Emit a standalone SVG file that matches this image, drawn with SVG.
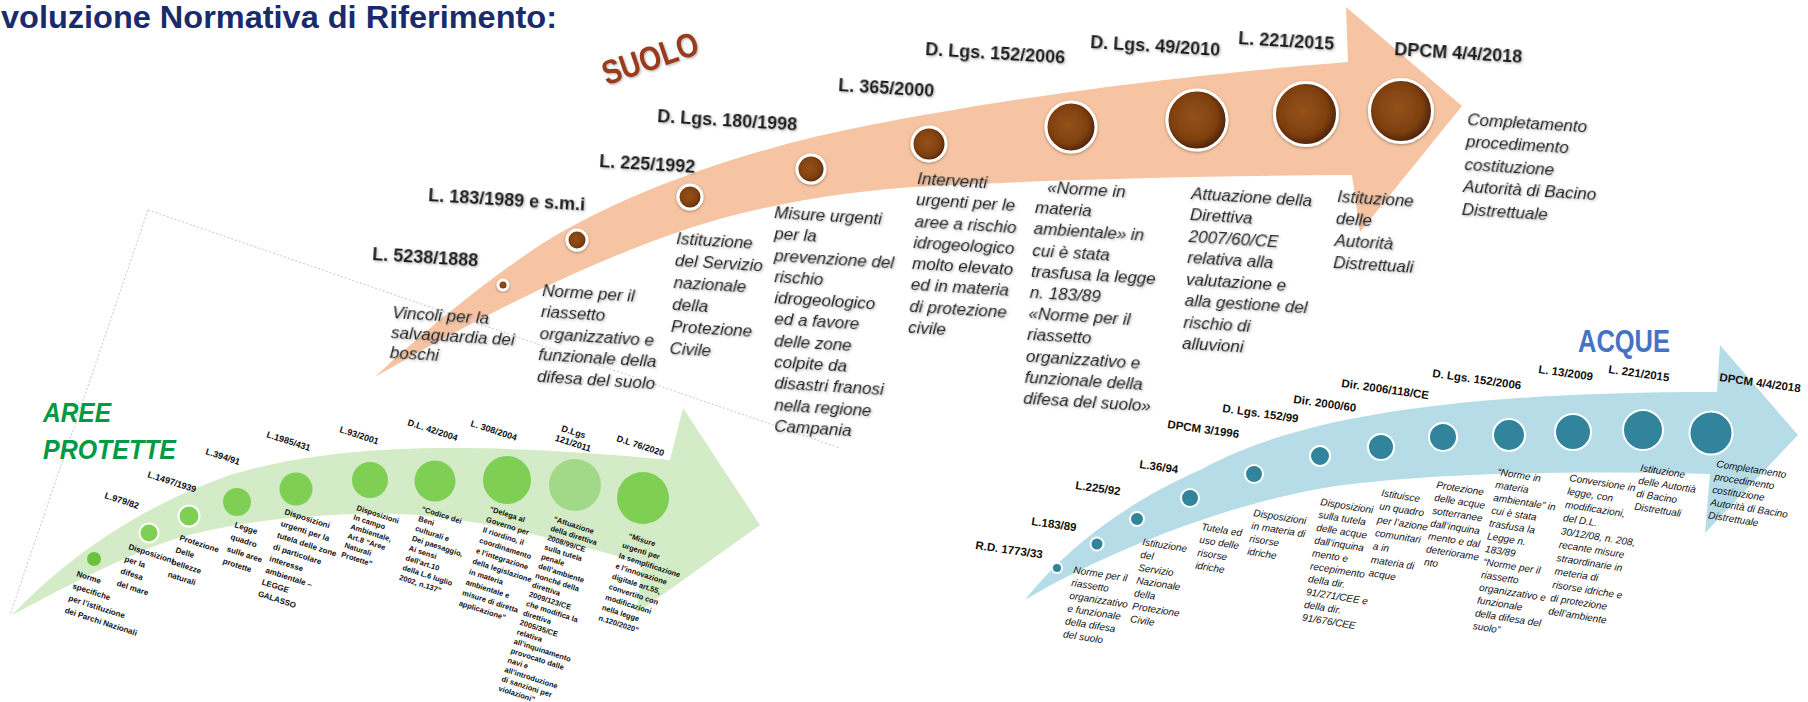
<svg xmlns="http://www.w3.org/2000/svg" width="1808" height="702" viewBox="0 0 1808 702">
<defs>
<style>
text{font-family:"Liberation Sans",Arial,sans-serif}
.title{font-size:32px;font-weight:bold;fill:#1a2b6d}
.sl{font-size:18px;font-weight:bold;fill:#1b1b1b}
.sd{font-size:17px;font-style:italic;fill:#222}
.gl{font-size:9px;font-weight:bold;fill:#111}
.gd{font-size:8px;font-weight:bold;fill:#111}
.gs{font-size:7.5px;font-weight:bold;fill:#111}
.bl{font-size:11.5px;font-weight:bold;fill:#111}
.bd{font-size:10px;font-style:italic;fill:#111}
.sc{fill:url(#brown);stroke:#fff;stroke-width:3}
.gc{fill:#80cf55}
.bc{fill:#31849b;stroke:#fff;stroke-width:2}
.border{stroke:#c8c8c8;stroke-width:1;stroke-dasharray:2 2;fill:none}
</style>
<radialGradient id="brown" cx="0.45" cy="0.45" r="0.55">
<stop offset="0" stop-color="#94521a"/>
<stop offset="0.7" stop-color="#7f400f"/>
<stop offset="1" stop-color="#4d2206"/>
</radialGradient>
<filter id="ts" x="-10%" y="-10%" width="120%" height="120%">
<feDropShadow dx="1.2" dy="1.2" stdDeviation="0.8" flood-color="#777" flood-opacity="0.55"/>
</filter>
<filter id="cs" x="-30%" y="-30%" width="160%" height="160%">
<feDropShadow dx="0" dy="1" stdDeviation="1.5" flood-color="#000" flood-opacity="0.35"/>
</filter>
</defs>

<rect width="1808" height="702" fill="#fff"/>

<g id="frame">
<line class="border" x1="148" y1="210" x2="840" y2="448"/>
<line class="border" x1="148" y1="210" x2="10" y2="615"/>
</g>

<g id="connectors">
<path id="arrow-suolo" fill="#f6c4a2" d="M375,377 C420,335 480,285 540,245 C620,195 740,150 870,125 C1000,100 1150,78 1348,62 L1346,7 L1462,106 L1360,232 L1352,175 C1200,176 1050,180 930,186 C850,190 760,205 690,228 C600,258 500,305 375,377 Z"/>
<path id="arrow-aree" fill="#d3ebc6" d="M12,615 C60,565 130,510 230,475 C330,445 460,440 670,460 L683,408 L760,525 L637,613 L642,563 C560,540 480,518 400,514 C300,512 200,525 140,552 C90,573 50,595 12,615 Z"/>
<path id="arrow-acque" fill="#b6dde7" d="M1025,600 C1060,555 1120,505 1200,470 C1290,420 1440,392 1717,392 L1720,345 L1798,435 L1705,533 L1710,474 C1550,470 1420,474 1330,487 C1220,505 1100,555 1025,600 Z"/>
</g>

<g id="title">
<text class="title" x="1" y="28" textLength="556" lengthAdjust="spacingAndGlyphs">voluzione Normativa di Riferimento:</text>
</g>
<g id="heading-suolo" filter="url(#ts)">
<text x="650" y="70" text-anchor="middle" transform="rotate(-19 650 58)" font-size="34" font-weight="bold" fill="#9a3b1b" textLength="100" lengthAdjust="spacingAndGlyphs">SUOLO</text>
</g>
<g id="heading-aree">
<text x="43" y="422" font-size="28" font-weight="bold" font-style="italic" fill="#009a44" textLength="68" lengthAdjust="spacingAndGlyphs">AREE</text>
<text x="43" y="459" font-size="28" font-weight="bold" font-style="italic" fill="#009a44" textLength="133" lengthAdjust="spacingAndGlyphs">PROTETTE</text>
</g>
<g id="heading-acque">
<text x="1578" y="352" font-size="32" font-weight="bold" fill="#4472c4" textLength="92" lengthAdjust="spacingAndGlyphs">ACQUE</text>
</g>

<!-- SUOLO -->
<g id="s1">
<circle class="sc" filter="url(#cs)" cx="503" cy="285" r="5"/>
<text class="sl" x="372" y="260" transform="rotate(3.5 372 260)" filter="url(#ts)">L. 5238/1888</text>
<text class="sd" transform="rotate(3.5 392 318)" filter="url(#ts)"><tspan x="392" y="318">Vincoli per la</tspan><tspan x="392" dy="20">salvaguardia dei</tspan><tspan x="392" dy="20">boschi</tspan></text>
</g>
<g id="s2">
<circle class="sc" filter="url(#cs)" cx="577" cy="240" r="10"/>
<text class="sl" x="428" y="201" transform="rotate(3.5 428 201)" filter="url(#ts)">L. 183/1989 e s.m.i</text>
<text class="sd" transform="rotate(3.5 542 296)" filter="url(#ts)"><tspan x="542" y="296">Norme  per il</tspan><tspan x="542" dy="21.5">riassetto</tspan><tspan x="542" dy="21.5">organizzativo e</tspan><tspan x="542" dy="21.5">funzionale della</tspan><tspan x="542" dy="21.5">difesa del suolo</tspan></text>
</g>
<g id="s3">
<circle class="sc" filter="url(#cs)" cx="690" cy="197" r="12"/>
<text class="sl" x="599" y="167" transform="rotate(3.5 599 167)" filter="url(#ts)">L. 225/1992</text>
<text class="sd" transform="rotate(3.5 676 244)" filter="url(#ts)"><tspan x="676" y="244">Istituzione</tspan><tspan x="676" dy="22">del Servizio</tspan><tspan x="676" dy="22">nazionale</tspan><tspan x="676" dy="22">della</tspan><tspan x="676" dy="22">Protezione</tspan><tspan x="676" dy="22">Civile</tspan></text>
</g>
<g id="s4">
<circle class="sc" filter="url(#cs)" cx="811" cy="169" r="14"/>
<text class="sl" x="657" y="122" transform="rotate(3.5 657 122)" filter="url(#ts)">D. Lgs. 180/1998</text>
<text class="sd" transform="rotate(3.5 774 218)" filter="url(#ts)"><tspan x="774" y="218">Misure urgenti</tspan><tspan x="775.3" dy="21.3">per la</tspan><tspan x="776.6" dy="21.3">prevenzione  del</tspan><tspan x="777.9" dy="21.3">rischio</tspan><tspan x="779.2" dy="21.3">idrogeologico</tspan><tspan x="780.5" dy="21.3">ed a favore</tspan><tspan x="781.8" dy="21.3">delle zone</tspan><tspan x="783.1" dy="21.3">colpite da</tspan><tspan x="784.4" dy="21.3">disastri franosi</tspan><tspan x="785.7" dy="21.3">nella regione</tspan><tspan x="787" dy="21.3">Campania</tspan></text>
</g>
<g id="s5">
<circle class="sc" filter="url(#cs)" cx="929" cy="144" r="17"/>
<text class="sl" x="838" y="91" transform="rotate(3.5 838 91)" filter="url(#ts)">L. 365/2000</text>
<text class="sd" transform="rotate(3.5 917 184)" filter="url(#ts)"><tspan x="917" y="184">Interventi</tspan><tspan x="917" dy="21.3">urgenti per le</tspan><tspan x="917" dy="21.3">aree a rischio</tspan><tspan x="917" dy="21.3">idrogeologico</tspan><tspan x="917" dy="21.3">molto elevato</tspan><tspan x="917" dy="21.3">ed in materia</tspan><tspan x="917" dy="21.3">di protezione</tspan><tspan x="917" dy="21.3">civile</tspan></text>
</g>
<g id="s6">
<circle class="sc" filter="url(#cs)" cx="1071" cy="127" r="25"/>
<text class="sl" x="925" y="55" transform="rotate(3.5 925 55)" filter="url(#ts)">D. Lgs. 152/2006</text>
<text class="sd" transform="rotate(3.5 1036 192)" filter="url(#ts)"><tspan x="1047" y="192">«Norme in</tspan><tspan x="1036" dy="21.2">materia</tspan><tspan x="1036" dy="21.2">ambientale» in</tspan><tspan x="1036" dy="21.2">cui è stata</tspan><tspan x="1036" dy="21.2">trasfusa la legge</tspan><tspan x="1036" dy="21.2">n. 183/89</tspan><tspan x="1036" dy="21.2">«Norme per il</tspan><tspan x="1036" dy="21.2">riassetto</tspan><tspan x="1036" dy="21.2">organizzativo e</tspan><tspan x="1036" dy="21.2">funzionale della</tspan><tspan x="1036" dy="21.2">difesa del suolo»</tspan></text>
</g>
<g id="s7">
<circle class="sc" filter="url(#cs)" cx="1197" cy="120" r="30"/>
<text class="sl" x="1090" y="48" transform="rotate(3.5 1090 48)" filter="url(#ts)">D. Lgs. 49/2010</text>
<text class="sd" transform="rotate(3.5 1191 199)" filter="url(#ts)"><tspan x="1191" y="199">Attuazione della</tspan><tspan x="1191" dy="21.5">Direttiva</tspan><tspan x="1191" dy="21.5">2007/60/CE</tspan><tspan x="1191" dy="21.5">relativa alla</tspan><tspan x="1191" dy="21.5">valutazione e</tspan><tspan x="1191" dy="21.5">alla gestione del</tspan><tspan x="1191" dy="21.5">rischio di</tspan><tspan x="1191" dy="21.5">alluvioni</tspan></text>
</g>
<g id="s8">
<circle class="sc" filter="url(#cs)" cx="1306" cy="114" r="31.5"/>
<text class="sl" x="1238" y="44" transform="rotate(3.5 1238 44)" filter="url(#ts)">L. 221/2015</text>
<text class="sd" transform="rotate(3.5 1337 202)" filter="url(#ts)"><tspan x="1337" y="202">Istituzione</tspan><tspan x="1337" dy="22">delle</tspan><tspan x="1337" dy="22">Autorità</tspan><tspan x="1337" dy="22">Distrettuali</tspan></text>
</g>
<g id="s9">
<circle class="sc" filter="url(#cs)" cx="1401" cy="111" r="31.5"/>
<text class="sl" x="1394" y="55" transform="rotate(3.5 1394 55)" filter="url(#ts)">DPCM 4/4/2018</text>
<text class="sd" transform="rotate(3.5 1467 125)" filter="url(#ts)"><tspan x="1467" y="125">Completamento</tspan><tspan x="1467" dy="22.5">procedimento</tspan><tspan x="1467" dy="22.5">costituzione</tspan><tspan x="1467" dy="22.5">Autorità di Bacino</tspan><tspan x="1467" dy="22.5">Distrettuale</tspan></text>
</g>

<!-- AREE PROTETTE -->
<g id="g1">
<circle class="gc" cx="94" cy="559" r="7" style="fill:#6dc23d"/>
<text class="gd" transform="rotate(18 76 576)"><tspan x="76" y="576">Norme</tspan><tspan x="76" dy="12.8">specifiche</tspan><tspan x="76" dy="12.8">per l’istituzione</tspan><tspan x="76" dy="12.8">dei Parchi Nazionali</tspan></text>
</g>
<g id="g2">
<circle class="gc" cx="149" cy="533" r="9.5" stroke="#fff" stroke-width="2"/>
<text class="gl" x="104" y="498" transform="rotate(18 104 498)">L.979/82</text>
<text class="gd" transform="rotate(18 128 549)"><tspan x="128" y="549">Disposizioni</tspan><tspan x="128" dy="12.8">per la</tspan><tspan x="128" dy="12.8">difesa</tspan><tspan x="128" dy="12.8">del mare</tspan></text>
</g>
<g id="g3">
<circle class="gc" cx="189" cy="516" r="10.5" stroke="#fff" stroke-width="2"/>
<text class="gl" x="147" y="477" transform="rotate(18 147 477)">L.1497/1939</text>
<text class="gd" transform="rotate(18 179 540)"><tspan x="179" y="540">Protezione</tspan><tspan x="179" dy="12.8">Delle</tspan><tspan x="179" dy="12.8">bellezze</tspan><tspan x="179" dy="12.8">naturali</tspan></text>
</g>
<g id="g4">
<circle class="gc" cx="237" cy="502" r="14"/>
<text class="gl" x="205" y="454" transform="rotate(18 205 454)">L.394/91</text>
<text class="gd" transform="rotate(18 234 527)"><tspan x="234" y="527">Legge</tspan><tspan x="234" dy="12.7">quadro</tspan><tspan x="234" dy="12.7">sulle aree</tspan><tspan x="234" dy="12.7">protette</tspan></text>
</g>
<g id="g5">
<circle class="gc" cx="296" cy="489" r="16.5"/>
<text class="gl" x="266" y="437" transform="rotate(18 266 437)">L.1985/431</text>
<text class="gd" transform="rotate(18 284 514)"><tspan x="284" y="514">Disposizioni</tspan><tspan x="284" dy="12.3">urgenti per la</tspan><tspan x="284" dy="12.3">tutela delle zone</tspan><tspan x="284" dy="12.3">di particolare</tspan><tspan x="284" dy="12.3">interesse</tspan><tspan x="284" dy="12.3">ambientale –</tspan><tspan x="284" dy="12.3">LEGGE</tspan><tspan x="284" dy="12.3">GALASSO</tspan></text>
</g>
<g id="g6">
<circle class="gc" cx="370" cy="480" r="18"/>
<text class="gl" x="339" y="432" transform="rotate(18 339 432)">L.93/2001</text>
<text class="gs" transform="rotate(18 356 510)"><tspan x="356" y="510">Disposizioni</tspan><tspan x="356" dy="9.8">In campo</tspan><tspan x="356" dy="9.8">Ambientale,</tspan><tspan x="356" dy="9.8">Art.8 “Aree</tspan><tspan x="356" dy="9.8">Naturali</tspan><tspan x="356" dy="9.8">Protette”</tspan></text>
</g>
<g id="g7">
<circle class="gc" cx="435" cy="481" r="20.5"/>
<text class="gl" x="407" y="425" transform="rotate(18 407 425)">D.L. 42/2004</text>
<text class="gs" transform="rotate(18 421 511)"><tspan x="421" y="511">“Codice dei</tspan><tspan x="421" dy="10.3">Beni</tspan><tspan x="421" dy="10.3">culturali e</tspan><tspan x="421" dy="10.3">Dei paesaggio,</tspan><tspan x="421" dy="10.3">Ai sensi</tspan><tspan x="421" dy="10.3">dell’art.10</tspan><tspan x="421" dy="10.3">della L.6 luglio</tspan><tspan x="421" dy="10.3">2002, n.137”</tspan></text>
</g>
<g id="g8">
<circle class="gc" cx="507" cy="480" r="24"/>
<text class="gl" x="470" y="426" transform="rotate(18 470 426)">L. 308/2004</text>
<text class="gs" transform="rotate(18 489 511)"><tspan x="489" y="511">“Delega al</tspan><tspan x="489" dy="11">Governo per</tspan><tspan x="489" dy="11">Il riordino, il</tspan><tspan x="489" dy="11">coordinamento</tspan><tspan x="489" dy="11">e l’integrazione</tspan><tspan x="489" dy="11">della legislazione</tspan><tspan x="489" dy="11">in materia</tspan><tspan x="489" dy="11">ambientale e</tspan><tspan x="489" dy="11">misure di diretta</tspan><tspan x="489" dy="11">applicazione”</tspan></text>
</g>
<g id="g9">
<circle class="gc" cx="575" cy="485" r="26" style="fill:#a2d989"/>
<text class="gl" transform="rotate(18 558 430)"><tspan x="561" y="430">D.Lgs</tspan><tspan x="558" dy="11">121/2011</tspan></text>
<text class="gs" transform="rotate(18 553 521)"><tspan x="553" y="521">“Attuazione</tspan><tspan x="553" dy="9.9">della direttiva</tspan><tspan x="553" dy="9.9">2008/99/CE</tspan><tspan x="553" dy="9.9">sulla tutela</tspan><tspan x="553" dy="9.9">penale</tspan><tspan x="553" dy="9.9">dell’ambiente</tspan><tspan x="553" dy="9.9">nonché della</tspan><tspan x="553" dy="9.9">direttiva</tspan><tspan x="553" dy="9.9">2009/123/CE</tspan><tspan x="553" dy="9.9">che modifica la</tspan><tspan x="553" dy="9.9">direttiva</tspan><tspan x="553" dy="9.9">2005/35/CE</tspan><tspan x="553" dy="9.9">relativa</tspan><tspan x="553" dy="9.9">all’inquinamento</tspan><tspan x="553" dy="9.9">provocato dalle</tspan><tspan x="553" dy="9.9">navi e</tspan><tspan x="553" dy="9.9">all’introduzione</tspan><tspan x="553" dy="9.9">di sanzioni per</tspan><tspan x="553" dy="9.9">violazioni”</tspan></text>
</g>
<g id="g10">
<circle class="gc" cx="643" cy="498" r="26"/>
<text class="gl" x="616" y="441" transform="rotate(18 616 441)">D.L 76/2020</text>
<text class="gs" transform="rotate(18 625 537)"><tspan x="628" y="537">“Misure</tspan><tspan x="625" dy="10.9">urgenti per</tspan><tspan x="625" dy="10.9">la semplificazione</tspan><tspan x="625" dy="10.9">e l’innovazione</tspan><tspan x="625" dy="10.9">digitale art.55,</tspan><tspan x="625" dy="10.9">convertito con</tspan><tspan x="625" dy="10.9">modificazioni</tspan><tspan x="625" dy="10.9">nella legge</tspan><tspan x="625" dy="10.9">n.120/2020”</tspan></text>
</g>

<!-- ACQUE -->
<g id="b1">
<circle class="bc" cx="1057" cy="568" r="5"/>
<text class="bl" x="975" y="549" transform="rotate(8 975 549)">R.D. 1773/33</text>
</g>
<g id="b2">
<circle class="bc" cx="1097" cy="544" r="6.5"/>
<text class="bl" x="1031" y="525" transform="rotate(8 1031 525)">L.183/89</text>
<text class="bd" transform="rotate(9 1073 573)"><tspan x="1073" y="573">Norme per il</tspan><tspan x="1073" dy="13">riassetto</tspan><tspan x="1073" dy="13">organizzativo</tspan><tspan x="1073" dy="13">e funzionale</tspan><tspan x="1073" dy="13">della difesa</tspan><tspan x="1073" dy="13">del suolo</tspan></text>
</g>
<g id="b3">
<circle class="bc" cx="1137" cy="519" r="7"/>
<text class="bl" x="1075" y="489" transform="rotate(8 1075 489)">L.225/92</text>
<text class="bd" transform="rotate(9 1142 545)"><tspan x="1142" y="545">Istituzione</tspan><tspan x="1142" dy="13">del</tspan><tspan x="1142" dy="13">Servizio</tspan><tspan x="1142" dy="13">Nazionale</tspan><tspan x="1142" dy="13">della</tspan><tspan x="1142" dy="13">Protezione</tspan><tspan x="1142" dy="13">Civile</tspan></text>
</g>
<g id="b4">
<circle class="bc" cx="1190" cy="498" r="9"/>
<text class="bl" x="1139" y="468" transform="rotate(8 1139 468)">L.36/94</text>
<text class="bd" transform="rotate(9 1201 530)"><tspan x="1201" y="530">Tutela ed</tspan><tspan x="1201" dy="13">uso delle</tspan><tspan x="1201" dy="13">risorse</tspan><tspan x="1201" dy="13">idriche</tspan></text>
</g>
<g id="b5">
<circle class="bc" cx="1254" cy="474" r="9"/>
<text class="bl" x="1167" y="428" transform="rotate(8 1167 428)">DPCM 3/1996</text>
<text class="bd" transform="rotate(9 1253 516)"><tspan x="1253" y="516">Disposizioni</tspan><tspan x="1253" dy="13">in materia di</tspan><tspan x="1253" dy="13">risorse</tspan><tspan x="1253" dy="13">idriche</tspan></text>
</g>
<g id="b6">
<circle class="bc" cx="1320" cy="456" r="10"/>
<text class="bl" x="1222" y="412" transform="rotate(8 1222 412)">D. Lgs. 152/99</text>
<text class="bd" transform="rotate(9 1320 505)"><tspan x="1320" y="505">Disposizioni</tspan><tspan x="1320" dy="13">sulla tutela</tspan><tspan x="1320" dy="13">delle acque</tspan><tspan x="1320" dy="13">dall’inquina</tspan><tspan x="1320" dy="13">mento e</tspan><tspan x="1320" dy="13">recepimento</tspan><tspan x="1320" dy="13">della dir.</tspan><tspan x="1320" dy="13">91/271/CEE e</tspan><tspan x="1320" dy="13">della dir.</tspan><tspan x="1320" dy="13">91/676/CEE</tspan></text>
</g>
<g id="b7">
<circle class="bc" cx="1381" cy="447" r="13"/>
<text class="bl" x="1293" y="403" transform="rotate(8 1293 403)">Dir. 2000/60</text>
<text class="bd" transform="rotate(9 1381 496)"><tspan x="1381" y="496">Istituisce</tspan><tspan x="1381" dy="13.5">un quadro</tspan><tspan x="1381" dy="13.5">per l’azione</tspan><tspan x="1381" dy="13.5">comunitari</tspan><tspan x="1381" dy="13.5">a in</tspan><tspan x="1381" dy="13.5">materia di</tspan><tspan x="1381" dy="13.5">acque</tspan></text>
</g>
<g id="b8">
<circle class="bc" cx="1443" cy="437" r="14"/>
<text class="bl" x="1341" y="387" transform="rotate(8 1341 387)">Dir. 2006/118/CE</text>
<text class="bd" transform="rotate(9 1436 488)"><tspan x="1436" y="488">Protezione</tspan><tspan x="1436" dy="13">delle acque</tspan><tspan x="1436" dy="13">sotterranee</tspan><tspan x="1436" dy="13">dall’inquina</tspan><tspan x="1436" dy="13">mento e dal</tspan><tspan x="1436" dy="13">deteriorame</tspan><tspan x="1436" dy="13">nto</tspan></text>
</g>
<g id="b9">
<circle class="bc" cx="1509" cy="435" r="16"/>
<text class="bl" x="1432" y="377" transform="rotate(8 1432 377)">D. Lgs. 152/2006</text>
<text class="bd" transform="rotate(9 1497 475)"><tspan x="1497" y="475">“Norme in</tspan><tspan x="1497" dy="13">materia</tspan><tspan x="1497" dy="13">ambientale” in</tspan><tspan x="1497" dy="13">cui è stata</tspan><tspan x="1497" dy="13">trasfusa la</tspan><tspan x="1497" dy="13">Legge n.</tspan><tspan x="1497" dy="13">183/89</tspan><tspan x="1497" dy="13">“Norme per il</tspan><tspan x="1497" dy="13">riassetto</tspan><tspan x="1497" dy="13">organizzativo e</tspan><tspan x="1497" dy="13">funzionale</tspan><tspan x="1497" dy="13">della difesa del</tspan><tspan x="1497" dy="13">suolo”</tspan></text>
</g>
<g id="b10">
<circle class="bc" cx="1573" cy="432" r="18"/>
<text class="bl" x="1538" y="373" transform="rotate(8 1538 373)">L. 13/2009</text>
<text class="bd" transform="rotate(9 1569 481)"><tspan x="1569" y="481">Conversione in</tspan><tspan x="1569" dy="13.5">legge, con</tspan><tspan x="1569" dy="13.5">modificazioni,</tspan><tspan x="1569" dy="13.5">del D.L.</tspan><tspan x="1569" dy="13.5">30/12/08, n. 208,</tspan><tspan x="1569" dy="13.5">recante misure</tspan><tspan x="1569" dy="13.5">straordinarie in</tspan><tspan x="1569" dy="13.5">meteria di</tspan><tspan x="1569" dy="13.5">risorse idriche e</tspan><tspan x="1569" dy="13.5">di protezione</tspan><tspan x="1569" dy="13.5">dell’ambiente</tspan></text>
</g>
<g id="b11">
<circle class="bc" cx="1643" cy="430" r="20"/>
<text class="bl" x="1608" y="373" transform="rotate(8 1608 373)">L. 221/2015</text>
<text class="bd" transform="rotate(9 1640 471)"><tspan x="1640" y="471">Istituzione</tspan><tspan x="1640" dy="13">delle Autortià</tspan><tspan x="1640" dy="13">di Bacino</tspan><tspan x="1640" dy="13">Distrettuali</tspan></text>
</g>
<g id="b12">
<circle class="bc" cx="1711" cy="433" r="21.5"/>
<text class="bl" x="1719" y="381" transform="rotate(8 1719 381)">DPCM 4/4/2018</text>
<text class="bd" transform="rotate(9 1716 467)"><tspan x="1716" y="467">Completamento</tspan><tspan x="1716" dy="13">procedimento</tspan><tspan x="1716" dy="13">costituzione</tspan><tspan x="1716" dy="13">Autorità di Bacino</tspan><tspan x="1716" dy="13">Distrettuale</tspan></text>
</g>
</svg>
